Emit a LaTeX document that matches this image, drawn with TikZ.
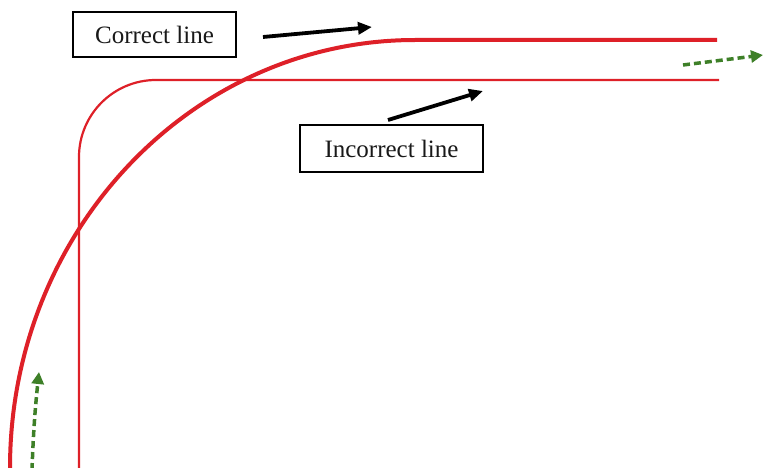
\documentclass[tikz,border=0pt]{standalone}
\usepackage{fontspec}
\setmainfont{Liberation Serif}
\usetikzlibrary{arrows.meta}
\definecolor{linered}{RGB}{222,32,40}
\definecolor{pathgreen}{RGB}{62,128,40}
\begin{document}
\begin{tikzpicture}[x=1pt,y=-1pt,
  label box/.style={draw=black,line width=1.1pt,fill=white,inner sep=0pt,
    font=\fontsize{25}{29}\selectfont,text=black!90},
  pointer/.style={line width=3.8pt,-{Triangle[length=14pt,width=12pt]}},
  green dash/.style={pathgreen,line width=3.5pt,dash pattern=on 7pt off 4pt,
    -{Triangle[length=12pt,width=12pt]}}]
  \useasboundingbox (0,0) rectangle (763,468);
  \fill[white] (0,0) rectangle (763,468);

  % incorrect (sharp-cornered) line
  \draw[linered,line width=2.2pt,rounded corners=77pt]
    (79,470) -- (79,80) -- (719,80);

  % correct (wide, smooth) line
  \draw[linered,line width=4pt]
    (10,470) -- (10,468) arc[start angle=180,end angle=270,x radius=405,y radius=428]
    -- (717,40);

  % label boxes
  \node[label box,minimum width=163pt,minimum height=45pt] (correct) at (154.5,34.5) {Correct line};
  \node[label box,minimum width=183pt,minimum height=47pt] (incorrect) at (391.5,148.5) {Incorrect line};

  % pointers from the labels
  \coordinate (c1) at (263,37);
  \coordinate (c2) at (372,27);
  \coordinate (i1) at (388,120);
  \coordinate (i2) at (483,91);
  \draw[pointer] (c1) -- (c2);
  \draw[pointer] (i1) -- (i2);

  % direction of travel
  \coordinate (g1) at (32,470);
  \coordinate (g2) at (39,372);
  \coordinate (g3) at (683,65);
  \coordinate (g4) at (763,55);
  \draw[green dash] (g1) to[bend left=2] (g2);
  \draw[green dash] (g3) -- (g4);
\end{tikzpicture}
\end{document}
